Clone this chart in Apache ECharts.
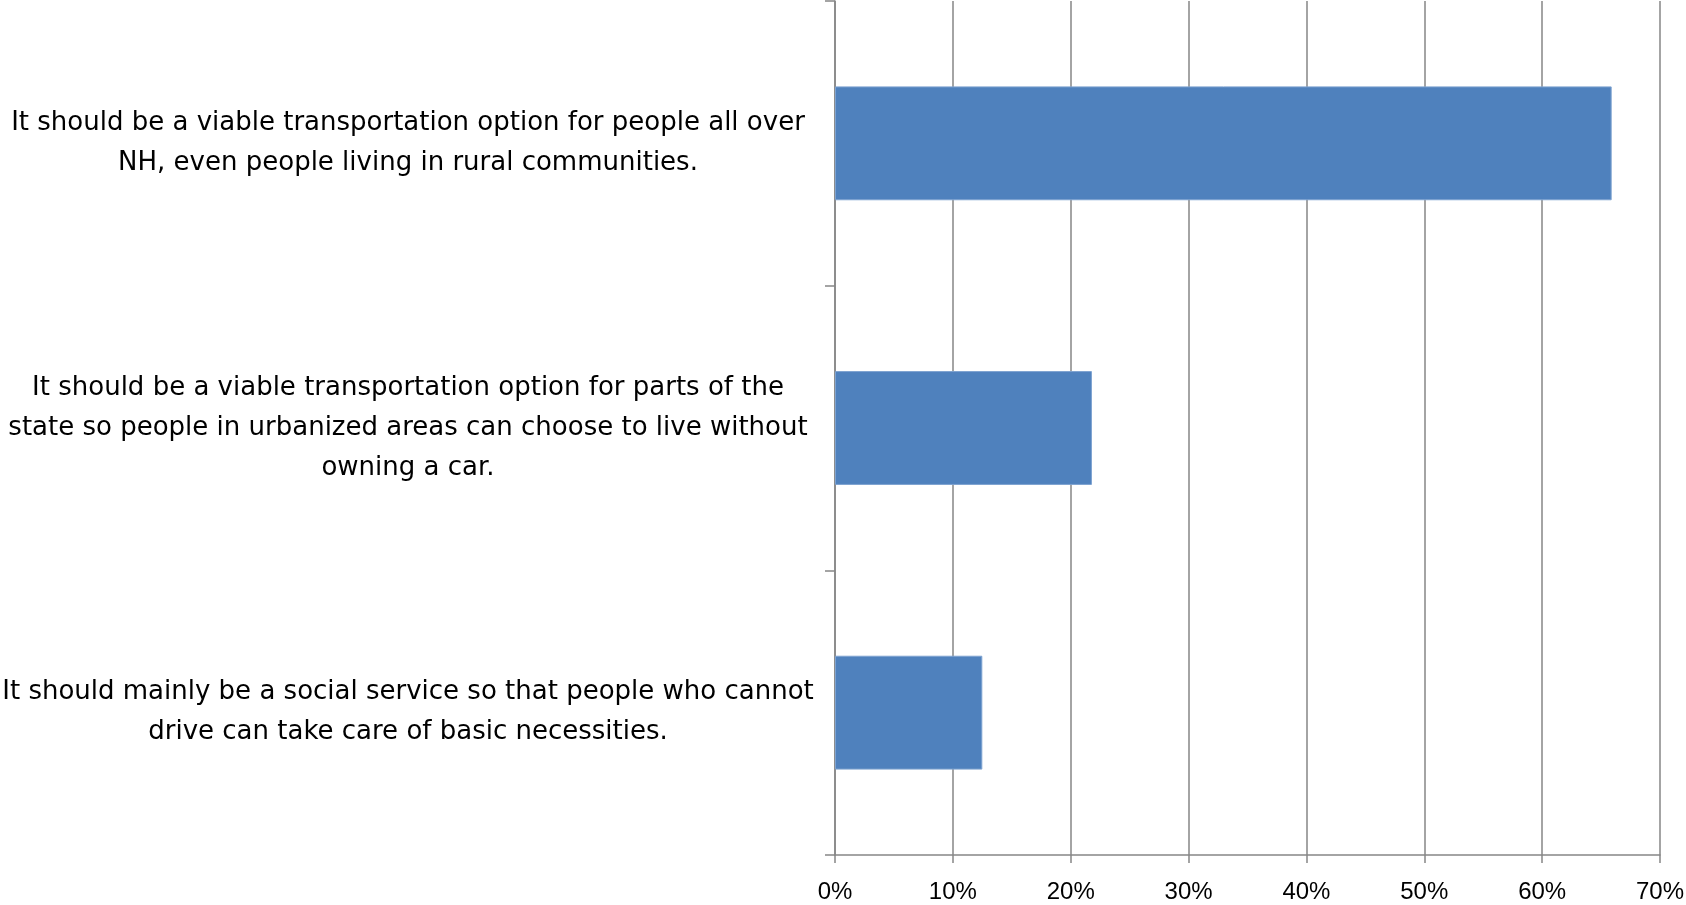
<!DOCTYPE html>
<html>
<head>
<meta charset="utf-8">
<script src="https://cdn.jsdelivr.net/npm/echarts@6/dist/echarts.min.js"></script>
<style>
html,body{margin:0;padding:0;background:#fff;}
#chart{width:1686px;height:905px;}
</style>
</head>
<body>
<div id="chart"></div>
<script>
const categories = [
  "It should be a viable transportation option for people all over\nNH, even people living in rural communities.",
  "It should be a viable transportation option for parts of the\nstate so people in urbanized areas can choose to live without\nowning a car.",
  "It should mainly be a social service so that people who cannot\ndrive can take care of basic necessities."
];
const values = [65.9, 21.8, 12.5];
const xTickMin = 0, xTickMax = 70, xTickStep = 10;

const axisGrey = '#868686';

const chart = echarts.init(document.getElementById('chart'), null, {renderer: 'canvas'});
chart.setOption({
  animation: false,
  grid: {left: 835, right: 26, top: 1, bottom: 50, containLabel: false, outerBoundsMode: 'none'},
  xAxis: {
    type: 'value',
    min: xTickMin, max: xTickMax, interval: xTickStep,
    axisLine: {show: true, lineStyle: {color: axisGrey, width: 1.5}},
    axisTick: {show: true, length: 8, lineStyle: {color: axisGrey, width: 1.5}},
    splitLine: {show: true, lineStyle: {color: axisGrey, width: 1.5}},
    axisLabel: {formatter: '{value}%', color: '#000', fontSize: 24, fontFamily: '"Liberation Sans", Arial, sans-serif', margin: 25}
  },
  yAxis: {
    type: 'category',
    inverse: true,
    data: categories,
    axisLine: {show: true, lineStyle: {color: axisGrey, width: 1.5}},
    axisTick: {show: true, length: 10, lineStyle: {color: axisGrey, width: 1.5}},
    axisLabel: {
      color: '#000', fontSize: 26, fontFamily: '"DejaVu Sans", sans-serif', lineHeight: 40,
      align: 'center', margin: 427
    }
  },
  series: [{
    type: 'bar',
    data: values,
    barWidth: '40%',
    itemStyle: {color: '#4F81BD', borderColor: '#7EA3D1', borderWidth: 1}
  }]
});
</script>
</body>
</html>
